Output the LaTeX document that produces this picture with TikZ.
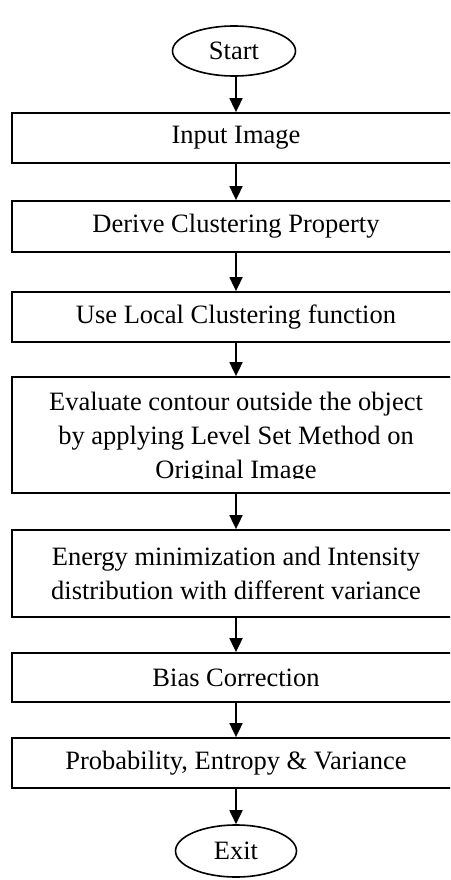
\documentclass[tikz,border=0pt]{standalone}
\usepackage{fontspec}
\setmainfont{Liberation Serif}
\usetikzlibrary{shapes.geometric,arrows.meta}
\tikzset{
  stepbox/.style={draw, line width=1.8pt, minimum width=448pt, inner sep=0pt,
                  align=center, font=\fontsize{26.5}{34}\selectfont},
  steptext/.style={inner sep=0pt, align=center, font=\fontsize{26.5}{34}\selectfont},
  term/.style={draw, ellipse, line width=1.6pt, inner sep=0pt,
               font=\fontsize{26.5}{30}\selectfont},
  flow/.style={line width=1.8pt, -{Triangle[length=14pt,width=13pt]}},
}
\begin{document}
\begin{tikzpicture}[x=1pt,y=-1pt]
\path[use as bounding box] (0,0) rectangle (450,880);
\clip (0,0) rectangle (450,880);

% terminals and process steps
\node[term, minimum width=123pt, minimum height=50pt] (start) at (234,51) {Start};
\node[stepbox, minimum height=50pt] (b1) at (236,138) {Input Image};
\node[stepbox, minimum height=51pt] (b2) at (236,226.5) {Derive Clustering Property};
\node[stepbox, minimum height=50pt] (b3) at (236,317) {Use Local Clustering function};
\node[stepbox, minimum height=116pt] (b4) at (236,435) {};
% the last line of this step is cut off at the bottom
\begin{scope}
  \clip (0,377) rectangle (450,478);
  \node[steptext] (t4) at (236,438) {Evaluate contour outside the object\\by applying Level Set Method on\\Original Image};
\end{scope}
\node[stepbox, minimum height=87pt] (b5) at (236,573.5) {Energy minimization and Intensity\\distribution with different variance};
\node[stepbox, minimum height=49pt] (b6) at (236,677.5) {Bias Correction};
\node[stepbox, minimum height=50pt] (b7) at (236,763) {Probability, Entropy \& Variance};
\node[term, minimum width=121pt, minimum height=52pt] (exit) at (236,851) {Exit};

% connectors
\draw[flow] (start.south -| b1.north) -- (b1.north);
\draw[flow] (b1) -- (b2);
\draw[flow] (b2) -- (b3);
\draw[flow] (b3) -- (b4);
\draw[flow] (b4) -- (b5);
\draw[flow] (b5) -- (b6);
\draw[flow] (b6) -- (b7);
\draw[flow] (b7) -- (exit);
\end{tikzpicture}
\end{document}
